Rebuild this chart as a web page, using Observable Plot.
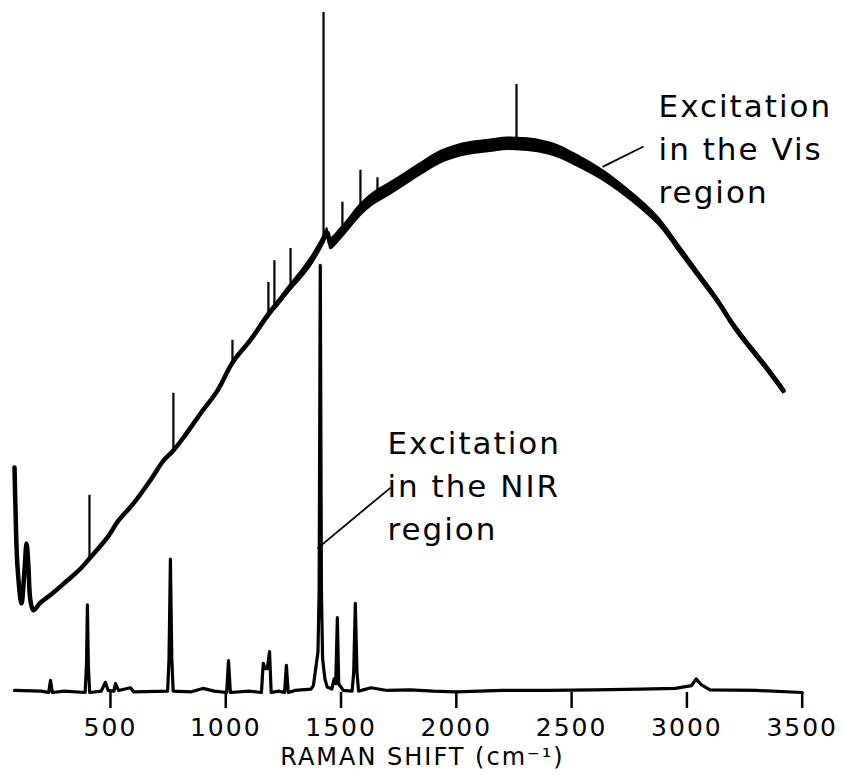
<!DOCTYPE html>
<html>
<head>
<meta charset="utf-8">
<script src="https://cdn.jsdelivr.net/npm/d3@7"></script>
<script src="https://cdn.jsdelivr.net/npm/@observablehq/plot@0.6"></script>
<style>
  html, body { margin: 0; padding: 0; background: #fff; }
  #chart svg { display: block; }
</style>
</head>
<body>
<div id="chart"></div>
<script>
// ---- Data (arbitrary intensity units) ----

// Spectrum recorded with excitation in the visible (fluorescence background)
const visShift = [84, 88, 97, 114, 127, 136, 144, 153, 166, 196, 253, 314, 370, 409, 487, 535, 600, 673, 730, 773, 817, 890, 964, 1029, 1107, 1181, 1224, 1281, 1324, 1367, 1411, 1441, 1454, 1497, 1528, 1584, 1641, 1714, 1788, 1857, 1931, 2005, 2074, 2148, 2222, 2291, 2365, 2439, 2508, 2595, 2669, 2742, 2820, 2885, 2972, 3059, 3133, 3202, 3276, 3349, 3419];
const visIntensity = [33.1, 27.2, 18.4, 13.1, 17.9, 21.9, 18.7, 13.5, 12.1, 13.2, 14.7, 16.5, 18.2, 19.7, 22.8, 25.3, 27.8, 31.2, 34.1, 35.6, 37.5, 41.0, 44.4, 48.5, 51.8, 55.4, 57.2, 59.6, 61.3, 63.2, 65.7, 67.6, 66.0, 67.4, 68.6, 70.9, 72.6, 74.1, 75.7, 77.2, 78.7, 79.6, 80.1, 80.4, 80.7, 80.6, 80.3, 79.6, 78.5, 76.9, 75.3, 73.4, 71.2, 69.0, 65.0, 61.0, 57.6, 54.0, 50.7, 47.6, 44.4];
// half-width of the noisy band around the Vis trace
const visNoise = [0, 0, 0, 0, 0, 0, 0, 0, 0, 0, 0, 0, 0.1, 0.1, 0.1, 0.15, 0.15, 0.2, 0.2, 0.2, 0.2, 0.25, 0.25, 0.35, 0.4, 0.5, 0.5, 0.6, 0.7, 0.8, 0.8, 0.8, 0.9, 0.95, 0.95, 1.0, 1.0, 1.0, 1.0, 1.0, 1.0, 1.0, 1.0, 1.0, 1.0, 1.0, 1.0, 1.0, 0.95, 0.9, 0.85, 0.8, 0.75, 0.7, 0.7, 0.65, 0.6, 0.6, 0.6, 0.6, 0.6];

// Sharp Raman lines sticking out of the Vis background
const visLineShift = [409, 773, 1029, 1185, 1211, 1281, 1424, 1506, 1584, 1658, 2261];
const visLineBase  = [19.7, 35.6, 48.5, 55.4, 56.5, 59.6, 66.0, 67.4, 70.9, 72.4, 80.7];
const visLineTop   = [29.0, 44.0, 51.8, 60.3, 63.5, 65.3, 100, 72.1, 76.8, 75.7, 89.4];

// Spectrum recorded with excitation in the NIR (FT-Raman, flat baseline)
const nirShift = [84, 200, 232, 240, 248, 300, 390, 396, 400, 404, 410, 460, 478, 490, 515, 522, 535, 587, 600, 748, 754, 760, 766, 772, 850, 901, 950, 1004, 1012, 1020, 1100, 1155, 1160, 1163, 1170, 1180, 1190, 1197, 1230, 1255, 1263, 1271, 1300, 1370, 1380, 1392, 1400, 1405, 1410, 1415, 1420, 1430, 1440, 1460, 1470, 1477, 1484, 1490, 1500, 1510, 1548, 1555, 1562, 1569, 1576, 1630, 1700, 1800, 1900, 2000, 2200, 2400, 2600, 2800, 2950, 3020, 3040, 3060, 3100, 3300, 3500];
const nirIntensity = [0.3, 0.2, 0, 1.8, 0, 0.2, 0, 4, 12.9, 4, 0, 0.2, 1.5, 0.3, 0.2, 1.3, 0.3, 0.7, 0.1, 0.2, 5, 19.6, 5, 0.2, 0.1, 0.6, 0.2, 0, 4.7, 0, 0.2, 0, 3, 4.3, 3.5, 3.5, 6.0, 0, 0.2, 0, 4.0, 0, 0.3, 0.5, 1, 4, 6, 15, 62.8, 15, 5, 2, 0.8, 0.5, 2, 1.3, 11.0, 1.2, 0.8, 0.3, 0.2, 3, 13.1, 3, 0.2, 0.7, 0.3, 0.4, 0.2, 0.1, 0.3, 0.3, 0.4, 0.5, 0.6, 1, 2.0, 1.2, 0.4, 0.3, 0];

// Axis
const xTicks = [500, 1000, 1500, 2000, 2500, 3000, 3500];
const xTitle = "RAMAN SHIFT (cm\u207B\u00B9)";
const xTitleShift = 1853;

// Annotations (text anchor and leader line, in data units)
const noteText  = ["Excitation\nin the Vis\nregion", "Excitation\nin the NIR\nregion"];
const noteX     = [2877, 1701];
const noteY     = [89.1, 39.6];
const leaderX1  = [2634, 1398];
const leaderY1  = [77.3, 21.2];
const leaderX2  = [2812, 1714];
const leaderY2  = [80.3, 30.1];

// ---- Build tables ----
const vis = visShift.map((v, i) => ({v, I: visIntensity[i], lo: visIntensity[i] - visNoise[i], hi: visIntensity[i] + visNoise[i]}));
const visLines = visLineShift.map((v, i) => ({v, base: visLineBase[i], top: visLineTop[i]}));
const nir = nirShift.map((v, i) => ({v, I: nirIntensity[i]}));
const notes = noteText.map((t, i) => ({t, x: noteX[i], y: noteY[i], x1: leaderX1[i], y1: leaderY1[i], x2: leaderX2[i], y2: leaderY2[i]}));

const chart = Plot.plot({
  width: 843,
  height: 776,
  marginLeft: 8.5,
  marginRight: 41.3,
  marginTop: 12,
  marginBottom: 84,
  style: {fontFamily: "DejaVu Sans", background: "#fff", color: "#000"},
  x: {domain: [60, 3500]},
  y: {domain: [0, 100], axis: null},
  marks: [
    Plot.areaY(vis, {x: "v", y1: "lo", y2: "hi", fill: "#000", curve: "catmull-rom"}),
    Plot.line(vis, {x: "v", y: "I", stroke: "#000", strokeWidth: 4.5, strokeLinejoin: "round", curve: "catmull-rom"}),
    Plot.ruleX(visLines, {x: "v", y1: "base", y2: "top", stroke: "#000", strokeWidth: 2.2}),
    Plot.line(nir, {x: "v", y: "I", stroke: "#000", strokeWidth: 3.2, strokeLinejoin: "round"}),
    Plot.axisX({ticks: xTicks, tickSize: 16, tickPadding: 10, fontSize: 25, strokeWidth: 2.5, label: null, tickFormat: d => String(d)}),
    Plot.text([xTitle], {x: xTitleShift, frameAnchor: "bottom", dy: 65, fontSize: 24, lineAnchor: "middle", textAnchor: "middle"}),
    Plot.link(notes, {x1: "x1", y1: "y1", x2: "x2", y2: "y2", stroke: "#000", strokeWidth: 1.8}),
    Plot.text(notes, {x: "x", y: "y", text: "t", textAnchor: "start", lineAnchor: "top", fontSize: 31, lineHeight: 1.39, fill: "#000"})
  ]
});

// letter spacing to mimic the wider lettering of the original
d3.select(chart).selectAll("text").each(function() {
  const t = this.textContent;
  if (t === xTitle) this.style.letterSpacing = "2px";
  else if (xTicks.map(String).includes(t)) this.style.letterSpacing = "2px";
  else if (/Excitation/.test(t)) this.style.letterSpacing = "2px";
});
document.getElementById("chart").appendChild(chart);
</script>
</body>
</html>
